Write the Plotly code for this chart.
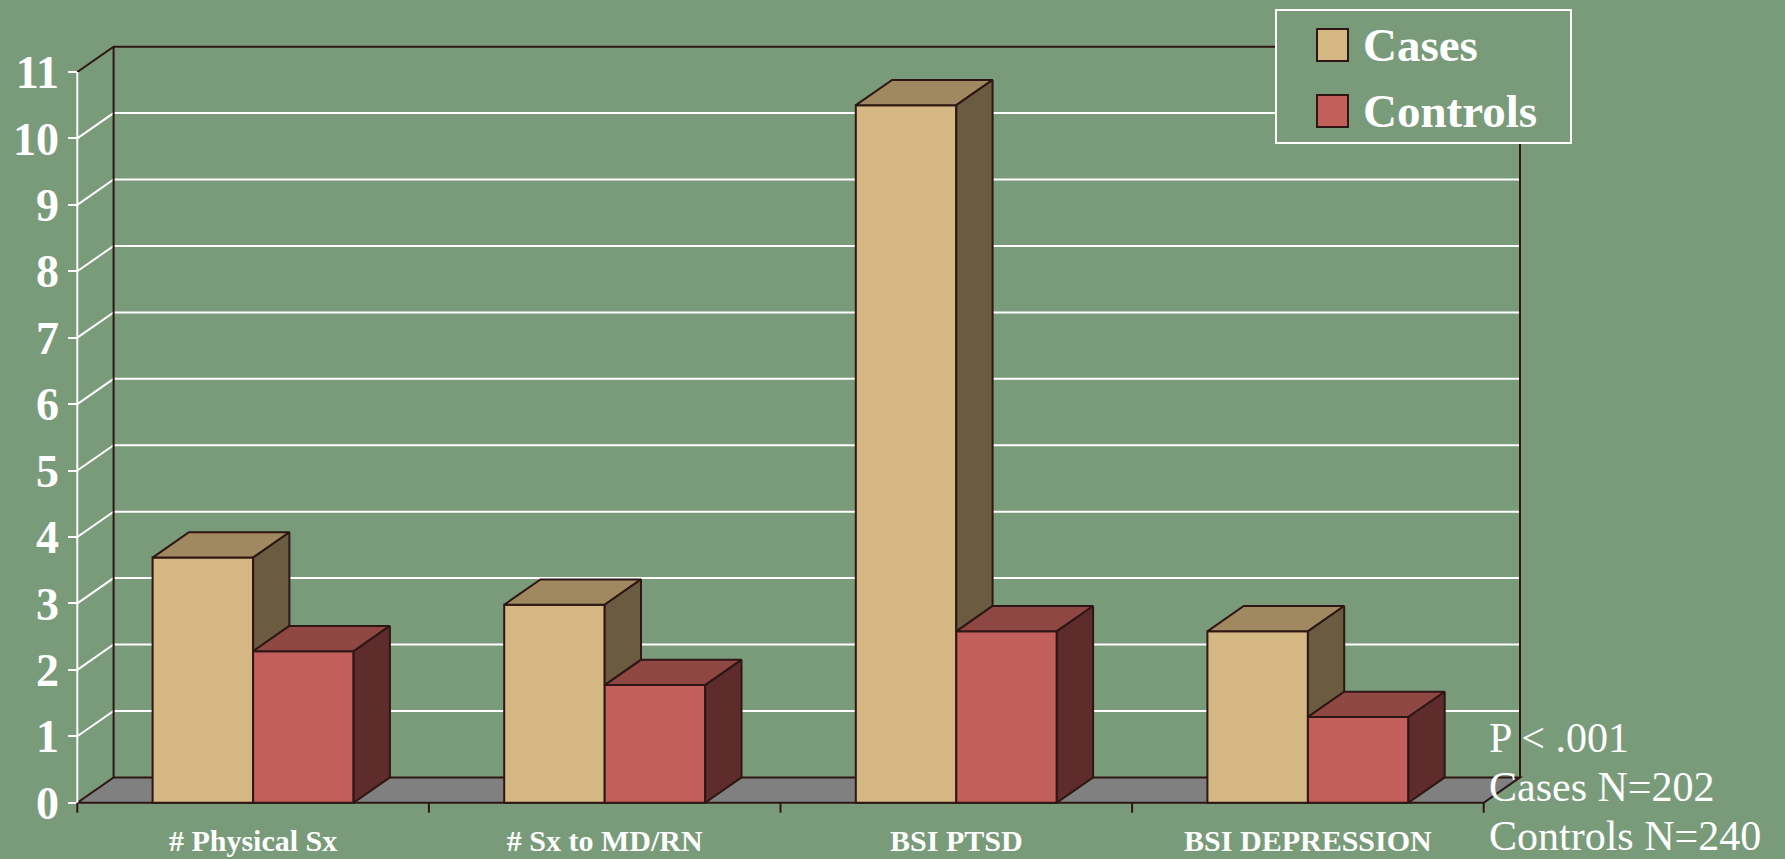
import plotly.graph_objects as go

# ---------------- data ----------------
categories = ["# Physical Sx", "# Sx to MD/RN", "BSI PTSD", "BSI DEPRESSION"]
series_names = ["Cases", "Controls"]
cases = [3.69, 2.98, 10.5, 2.58]
controls = [2.28, 1.77, 2.58, 1.29]
y_ticks = list(range(0, 12))
notes = ["P < .001", "Cases N=202", "Controls N=240"]

# ---------------- style ----------------
BG = "#7A9B7A"
DARK = "#2E1614"
FLOOR = "#808080"
FRONT = ["#D4B782", "#C25F5A"]
TOP = ["#A08860", "#8F4743"]
SIDE = ["#6B5B40", "#5E2C2B"]
FONT = "Liberation Serif"

W, H = 1785, 859
ML, MR, MT, MB = 60, 250, 40, 39
PX0 = 77.3          # pixel of the front-left corner (x = -0.5)
PX_PER_X = 351.6    # pixels per category
PY0 = 802.7         # pixel of value 0 (front)
PX_PER_Y = 66.43    # pixels per unit value

xr = [-0.5 - (PX0 - ML) / PX_PER_X, -0.5 + (W - MR - PX0) / PX_PER_X]
yr = [(PY0 - (H - MB)) / PX_PER_Y, (PY0 - MT) / PX_PER_Y]

DX = 36.3 / PX_PER_X      # oblique depth in x units
DY = 25.3 / PX_PER_Y      # oblique depth in y units
BAR_W = 100.5 / PX_PER_X  # width of one bar in category units

n = len(categories)
xs = list(range(n))
XL, XR = -0.5, n - 0.5
YMAX = y_ticks[-1]
series = [cases, controls]

fig = go.Figure()

# ---------- front faces (bars) ----------
for k, (name, vals) in enumerate(zip(series_names, series)):
    fig.add_trace(go.Bar(
        x=xs, y=vals, name=name, showlegend=False, hoverinfo="skip",
        marker=dict(color=FRONT[k], line=dict(color=DARK, width=2)),
    ))

# ---------- top and side faces ----------
for i in xs:
    for k, vals in enumerate(series):
        v = vals[i]
        x0 = i - BAR_W + k * BAR_W
        x1 = x0 + BAR_W
        # top
        fig.add_trace(go.Scatter(
            x=[x0, x0 + DX, x1 + DX, x1, x0],
            y=[v, v + DY, v + DY, v, v],
            mode="lines", fill="toself", fillcolor=TOP[k],
            line=dict(color=DARK, width=2), showlegend=False, hoverinfo="skip"))
        # side (visible part, above the next bar in the group)
        nxt = series[k + 1][i] if k + 1 < len(series) else 0
        lo = min(nxt, v)
        if v > lo:
            fig.add_trace(go.Scatter(
                x=[x1, x1 + DX, x1 + DX, x1, x1],
                y=[lo, lo + DY, v + DY, v, lo],
                mode="lines", fill="toself", fillcolor=SIDE[k],
                line=dict(color=DARK, width=2), showlegend=False, hoverinfo="skip"))

shapes = []
# gridlines on side and back walls
for t in y_ticks[1:-1]:
    shapes.append(dict(type="path", xref="x", yref="y", layer="below",
                       path=f"M{XL},{t} L{XL + DX},{t + DY} L{XR + DX},{t + DY}",
                       line=dict(color="white", width=2)))
# floor
shapes.append(dict(type="path", xref="x", yref="y", layer="below",
                   path=f"M{XL},0 L{XR},0 L{XR + DX},{DY} L{XL + DX},{DY} Z",
                   fillcolor=FLOOR, line=dict(color=DARK, width=2)))
# wall edges
shapes.append(dict(type="path", xref="x", yref="y", layer="below",
                   path=f"M{XL},{YMAX} L{XL + DX},{YMAX + DY} L{XR + DX},{YMAX + DY} L{XR + DX},{DY}",
                   line=dict(color=DARK, width=2)))
shapes.append(dict(type="line", xref="x", yref="y", layer="below",
                   x0=XL + DX, x1=XL + DX, y0=DY, y1=YMAX + DY,
                   line=dict(color=DARK, width=2)))
# front value axis
shapes.append(dict(type="line", xref="x", yref="y", layer="below",
                   x0=XL, x1=XL, y0=0, y1=YMAX, line=dict(color="white", width=2)))
# category ticks
for b in range(n + 1):
    shapes.append(dict(type="line", xref="x", yref="y", layer="above",
                       x0=XL + b, x1=XL + b, y0=0, y1=-10 / PX_PER_Y,
                       line=dict(color=DARK, width=2)))

# ---------- legend (drawn) ----------
PW = W - ML - MR
PH = H - MT - MB
def px(xp):
    return (xp - ML) / PW
def py(yp):
    return 1 - (yp - MT) / PH

shapes.append(dict(type="rect", xref="paper", yref="paper", layer="above",
                   x0=px(1276), x1=px(1571), y0=py(143), y1=py(10),
                   fillcolor=BG, line=dict(color="white", width=2)))
annotations = []
for k, name in enumerate(series_names):
    yc = 45 + k * 66
    shapes.append(dict(type="rect", xref="paper", yref="paper", layer="above",
                       x0=px(1317), x1=px(1348), y0=py(yc + 16), y1=py(yc - 16),
                       fillcolor=FRONT[k], line=dict(color=DARK, width=2)))
    annotations.append(dict(xref="paper", yref="paper", x=px(1361), y=py(yc),
                            xanchor="left", yanchor="middle", showarrow=False,
                            text=name, font=dict(family=FONT, size=47, color="white", weight="bold")))

for j, t in enumerate(notes):
    annotations.append(dict(xref="paper", yref="paper", x=px(1487), y=py(738 + j * 49),
                            xanchor="left", yanchor="middle", showarrow=False,
                            text=t, font=dict(family=FONT, size=42, color="white")))

fig.update_layout(
    width=W, height=H,
    margin=dict(l=ML, r=MR, t=MT, b=MB, pad=0, autoexpand=False),
    paper_bgcolor=BG, plot_bgcolor=BG,
    barmode="group", bargap=1 - 2 * BAR_W, bargroupgap=0,
    shapes=shapes, annotations=annotations,
    showlegend=False,
    xaxis=dict(range=xr, tickvals=xs, ticktext=categories, showgrid=False,
               zeroline=False, showline=False, ticks="", automargin=False,
               tickfont=dict(family=FONT, size=30, color="white", weight="bold")),
    yaxis=dict(range=yr, tickvals=y_ticks, showgrid=False, zeroline=False,
               showline=False, ticks="outside", ticklen=9, tickwidth=2,
               tickcolor="white", anchor="free", position=(PX0 - ML) / PW,
               automargin=False,
               tickfont=dict(family=FONT, size=46, color="white", weight="bold")),
)

fig.write_html(
    "out.html",
    config={"displayModeBar": False},
    post_script="document.body.style.margin='0px';document.body.style.overflow='hidden';",
)
